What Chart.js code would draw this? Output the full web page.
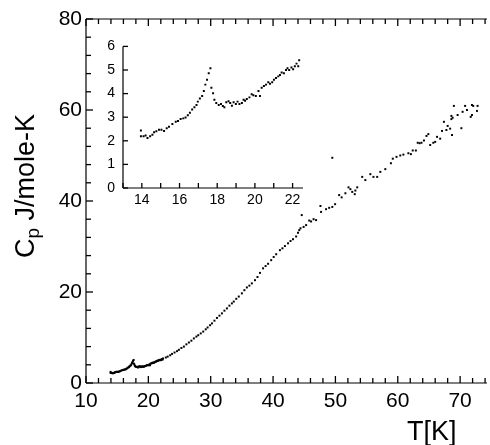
<!DOCTYPE html>
<html>
<head>
<meta charset="utf-8">
<script src="https://cdn.jsdelivr.net/npm/chart.js@4"></script>
<style>
    html, body { margin: 0; padding: 0; background: #fff; overflow: hidden; }
    #wrap { position: relative; width: 490px; height: 445px; }
    #main { position: absolute; left: 0; top: 0; }
    #inset { position: absolute; left: 95px; top: 30px; }
</style>
</head>
<body>
<div id="wrap">
    <canvas id="main" width="490" height="445"></canvas>
    <canvas id="inset" width="215" height="180"></canvas>
</div>
<script>
// low temperature run (shown in the inset and in the main plot)
const lowT = [13.95, 13.95, 14.09, 14.2, 14.3, 14.44, 14.56, 14.65, 14.77, 14.91, 15.04, 15.18, 15.32, 15.44,
    15.62, 15.8, 15.92, 16.06, 16.2, 16.32, 16.44, 16.55, 16.67, 16.79, 16.9, 16.97, 17.08, 17.2, 17.29,
    17.37, 17.46, 17.55, 17.64, 17.69, 17.78, 17.85, 17.95, 18.08, 18.2, 18.3, 18.38, 18.48, 18.6, 18.69,
    18.78, 18.87, 18.99, 19.08, 19.18, 19.31, 19.4, 19.48, 19.57, 19.71, 19.83, 19.92, 20.05, 20.19, 20.27,
    20.36, 20.48, 20.59, 20.71, 20.8, 20.92, 21.01, 21.12, 21.24, 21.33, 21.42, 21.54, 21.65, 21.73, 21.82,
    21.94, 22.03, 22.12, 22.21, 22.3, 22.35];
const lowCp = [2.44, 2.19, 2.19, 2.22, 2.12, 2.19, 2.26, 2.36, 2.4, 2.47, 2.47, 2.42, 2.53, 2.6,
    2.71, 2.81, 2.84, 2.92, 2.95, 2.99, 3.08, 3.19, 3.33, 3.42, 3.52, 3.66, 3.79, 3.9, 4.11,
    4.38, 4.59, 4.86, 5.07, 4.25, 4.01, 3.74, 3.6, 3.52, 3.56, 3.47, 3.42, 3.63, 3.68, 3.6,
    3.49, 3.63, 3.56, 3.66, 3.56, 3.6, 3.74, 3.7, 3.77, 3.84, 3.97, 3.93, 3.9, 4.11, 3.9,
    4.25, 4.32, 4.38, 4.48, 4.42, 4.48, 4.59, 4.66, 4.73, 4.79, 4.89, 4.86, 5.0, 5.07, 5.0,
    5.11, 5.03, 5.16, 5.27, 5.16, 5.41];

// higher temperature part of the main plot
const highT = [22.8, 23.1, 23.5, 23.8, 24.2, 24.6, 24.9, 25.3, 25.7, 26.1, 26.5, 26.9, 27.3, 27.7, 28.0,
    28.4, 28.8, 29.2, 29.5, 29.9, 30.2, 30.6, 31.0, 31.4, 31.8, 32.2, 32.6, 33.0, 33.4, 33.7, 34.1, 34.5,
    35.0, 35.4, 35.8, 36.2, 36.6, 37.1, 37.5, 37.9, 38.4, 38.8, 39.2, 39.7, 40.1, 40.5, 41.1, 41.5, 41.9,
    42.4, 42.8, 43.2, 43.7, 44.0, 44.2, 44.4, 44.6, 44.9, 45.3, 45.8, 46.1, 46.5, 46.9, 47.6, 47.7, 48.5,
    49.0, 49.5, 49.5, 49.95, 50.6, 51.0, 51.6, 52.1, 52.4, 52.7, 53.1, 53.2, 53.5, 54.3, 54.8, 55.6, 56.1,
    56.7, 57.2, 58.0, 58.9, 59.2, 59.8, 60.4, 60.9, 61.7, 62.1, 62.4, 62.9, 63.2, 63.5, 63.8, 64.2, 64.6,
    64.9, 65.2, 65.7, 66.0, 66.3, 66.8, 67.1, 67.4, 67.8, 68.0, 68.4, 68.6, 68.6, 68.7, 68.8, 69.0, 69.6,
    70.2, 70.4, 70.8, 71.1, 71.7, 71.9, 71.9, 72.1, 72.7, 72.8];
const highCp = [5.6, 5.8, 6.1, 6.4, 6.7, 7.0, 7.3, 7.7, 8.0, 8.5, 8.9, 9.3, 9.8, 10.2, 10.5,
    10.9, 11.3, 11.8, 12.2, 12.7, 13.1, 13.7, 14.3, 14.8, 15.3, 15.9, 16.4, 17.0, 17.5, 17.9, 18.5, 19.0,
    19.7, 20.4, 21.0, 21.4, 21.9, 22.6, 23.3, 24.2, 25.2, 25.7, 26.2, 27.0, 27.7, 28.3, 29.2, 29.6, 30.1,
    30.7, 31.2, 31.6, 32.2, 33.0, 33.6, 34.0, 36.9, 34.3, 34.7, 35.7, 35.5, 36.0, 35.8, 38.9, 37.6, 38.2,
    38.5, 38.7, 49.5, 39.3, 41.3, 40.8, 41.7, 43.0, 42.6, 42.0, 41.5, 42.3, 43.0, 45.3, 44.6, 45.9, 45.3,
    45.3, 46.4, 47.0, 48.3, 49.3, 49.7, 50.0, 50.2, 50.5, 50.3, 51.1, 51.1, 52.8, 52.7, 52.8, 53.3, 54.3,
    54.7, 52.3, 52.8, 53.0, 54.1, 53.7, 55.4, 57.4, 55.6, 56.5, 55.9, 58.0, 58.7, 54.5, 58.3, 60.9, 58.9,
    56.0, 59.6, 60.9, 60.0, 58.5, 58.9, 61.1, 60.9, 59.8, 60.9];

const mainXTicks = [10, 20, 30, 40, 50, 60, 70];
const mainYTicks = [0, 20, 40, 60, 80];
const insetXTicks = [14, 16, 18, 20, 22];
const insetYTicks = [0, 1, 2, 3, 4, 5, 6];

const FONT = 'Arial, "Liberation Sans", sans-serif';

const toPoints = (xs, ys) => xs.map((t, i) => ({ x: t, y: ys[i] }));

// list of tick values from..to by step
const steps = (from, to, step) => {
    const out = [];
    for (let i = 0; from + i * step <= to + 1e-6; i++) out.push(from + i * step);
    return out;
};

// axis lines with inward tick marks (config kept in a closure)
const makeFrame = cfg => ({
    id: 'frame',
    afterDraw(chart) {
        const { ctx, chartArea: a } = chart;
        const x = chart.scales.x, y = chart.scales.y;
        const L = a.left, B = a.bottom, T = a.top;
        ctx.save();
        ctx.strokeStyle = '#000';
        const seg = (x1, y1, x2, y2) => {
            ctx.beginPath();
            ctx.moveTo(x1, y1);
            ctx.lineTo(x2, y2);
            ctx.stroke();
        };
        ctx.lineWidth = 1.2;
        seg(L, B, L, T);
        seg(L, B, a.right + 1, B);
        if (cfg.top) seg(L, T, a.right + 1, T);
        ctx.lineWidth = 1.3;
        cfg.xTicks.forEach(v => {
            const px = x.getPixelForValue(v);
            const len = cfg.xMajor.includes(v) ? cfg.major : cfg.minor;
            seg(px, B, px, B - len);
            if (cfg.top) seg(px, T, px, T + len);
        });
        cfg.yTicks.forEach(v => {
            const py = y.getPixelForValue(v);
            const len = cfg.yMajor.includes(v) ? cfg.major : cfg.minor;
            seg(L, py, L + len, py);
        });
        ctx.restore();
    }
});

// axis titles for the main plot
const axisTitles = {
    id: 'axisTitles',
    afterDraw(chart) {
        const ctx = chart.ctx;
        ctx.save();
        ctx.fillStyle = '#000';
        ctx.textBaseline = 'alphabetic';
        ctx.textAlign = 'left';
        // C_p J/mole-K, rotated
        const big = '27px ' + FONT, small = '19px ' + FONT;
        ctx.font = big;
        const wC = ctx.measureText('C').width;
        const wRest = ctx.measureText(' J/mole-K').width;
        ctx.font = small;
        const wp = ctx.measureText('p').width;
        const total = wC + wp + wRest;
        ctx.translate(34, 186);
        ctx.rotate(-Math.PI / 2);
        const s = -total / 2;
        ctx.font = big;
        ctx.fillText('C', s, 0);
        ctx.font = small;
        ctx.fillText('p', s + wC, 5);
        ctx.font = big;
        ctx.fillText(' J/mole-K', s + wC + wp, 0);
        ctx.setTransform(1, 0, 0, 1, 0, 0);
        ctx.font = '27px ' + FONT;
        ctx.fillText('T[K]', 407, 440);
        ctx.restore();
    }
};

const scatterSet = pts => ({
    data: pts,
    pointStyle: 'rect',
    pointRadius: 1.4,
    pointBackgroundColor: '#000',
    pointBorderWidth: 0,
    showLine: false
});

const fixedTicks = list => scale => { scale.ticks = list.map(v => ({ value: v })); };

new Chart(document.getElementById('main'), {
    type: 'scatter',
    data: { datasets: [scatterSet(toPoints(lowT.concat(highT), lowCp.concat(highCp)))] },
    options: {
        responsive: false,
        animation: false,
        layout: { padding: { top: 19, right: 0, left: 0, bottom: 0 } },
        plugins: { legend: { display: false }, tooltip: { enabled: false } },
        scales: {
            x: {
                type: 'linear', min: 10, max: 74.15,
                grid: { display: false, drawTicks: false },
                border: { display: false },
                afterBuildTicks: fixedTicks(mainXTicks),
                afterFit: s => { s.height = 62; },
                ticks: { color: '#000', padding: 6, maxRotation: 0, font: { family: FONT, size: 21 } }
            },
            y: {
                type: 'linear', min: 0, max: 80,
                grid: { display: false, drawTicks: false },
                border: { display: false },
                afterBuildTicks: fixedTicks(mainYTicks),
                afterFit: s => { s.width = 86; },
                ticks: { color: '#000', padding: 4, font: { family: FONT, size: 21 } }
            }
        }
    },
    plugins: [makeFrame({
        top: true,
        xTicks: steps(10, 74, 2), xMajor: mainXTicks,
        yTicks: steps(0, 80, 4), yMajor: mainYTicks,
        major: 7, minor: 5
    }), axisTitles]
});

new Chart(document.getElementById('inset'), {
    type: 'scatter',
    data: { datasets: [scatterSet(toPoints(lowT, lowCp))] },
    options: {
        responsive: false,
        animation: false,
        layout: { padding: { top: 12, right: 8, left: 0, bottom: 0 } },
        plugins: { legend: { display: false }, tooltip: { enabled: false } },
        scales: {
            x: {
                type: 'linear', min: 13, max: 22.5,
                grid: { display: false, drawTicks: false },
                border: { display: false },
                afterBuildTicks: fixedTicks(insetXTicks),
                afterFit: s => { s.height = 22; },
                ticks: { color: '#000', padding: 4, maxRotation: 0, font: { family: FONT, size: 14 } }
            },
            y: {
                type: 'linear', min: 0, max: 6,
                grid: { display: false, drawTicks: false },
                border: { display: false },
                afterBuildTicks: fixedTicks(insetYTicks),
                afterFit: s => { s.width = 28; },
                ticks: { color: '#000', padding: 8, font: { family: FONT, size: 14 } }
            }
        }
    },
    plugins: [makeFrame({
        top: false,
        xTicks: steps(13, 22, 1), xMajor: insetXTicks,
        yTicks: steps(0, 6, 1), yMajor: insetYTicks,
        major: 5, minor: 5
    })]
});
</script>
</body>
</html>
